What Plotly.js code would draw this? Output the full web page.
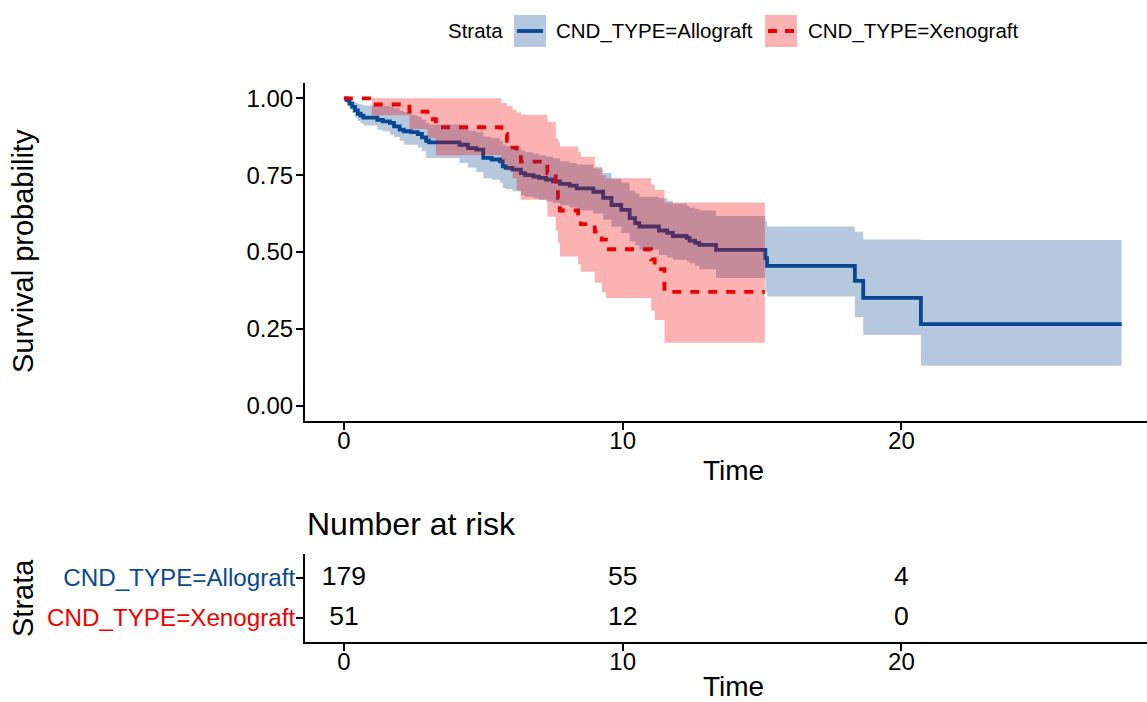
<!DOCTYPE html>
<html>
<head>
<meta charset="utf-8">
<script src="https://cdn.plot.ly/plotly-3.0.1.min.js"></script>
<style>
  html, body { margin: 0; padding: 0; background: #ffffff; }
  #chart { width: 1147px; height: 702px; }
</style>
</head>
<body>
<div id="chart"></div>
<script>
// Kaplan-Meier estimates by graft type, with 95% confidence band
const alloTime  = [0, 0.1, 0.2, 0.3, 0.4, 0.5, 0.6, 0.7, 1.2, 1.4, 1.65, 1.8, 2.0, 2.15, 2.4, 2.65, 2.8, 2.95, 3.05, 4.15, 4.45, 4.75, 5.0, 5.3, 5.6, 5.7, 5.8, 6.05, 6.35, 6.5, 6.8, 7.0, 7.25, 7.5, 7.75, 8.1, 8.35, 8.95, 9.3, 9.6, 9.95, 10.25, 10.45, 10.6, 11.3, 11.6, 11.8, 12.3, 12.4, 12.6, 12.75, 13.35, 15.12, 15.18, 18.33, 18.63, 20.7, 27.9];
const alloSurv  = [1.0, 0.994, 0.983, 0.972, 0.961, 0.95, 0.944, 0.937, 0.93, 0.925, 0.92, 0.909, 0.898, 0.893, 0.89, 0.884, 0.873, 0.862, 0.857, 0.849, 0.838, 0.833, 0.806, 0.801, 0.795, 0.779, 0.774, 0.768, 0.757, 0.75, 0.745, 0.741, 0.736, 0.73, 0.722, 0.716, 0.707, 0.696, 0.676, 0.653, 0.637, 0.61, 0.594, 0.583, 0.57, 0.562, 0.552, 0.546, 0.537, 0.53, 0.523, 0.507, 0.48, 0.455, 0.406, 0.351, 0.265, 0.265];
const alloUpper = [1.0, 1.0, 0.995, 0.99, 0.985, 0.982, 0.98, 0.977, 0.975, 0.975, 0.972, 0.968, 0.96, 0.955, 0.945, 0.94, 0.93, 0.92, 0.915, 0.905, 0.895, 0.89, 0.875, 0.87, 0.862, 0.85, 0.845, 0.84, 0.83, 0.825, 0.82, 0.815, 0.81, 0.805, 0.795, 0.79, 0.785, 0.772, 0.757, 0.738, 0.725, 0.70, 0.69, 0.68, 0.675, 0.667, 0.658, 0.65, 0.645, 0.64, 0.635, 0.617, 0.599, 0.583, 0.566, 0.541, 0.539, 0.539];
const alloLower = [1.0, 0.983, 0.965, 0.952, 0.938, 0.926, 0.918, 0.912, 0.898, 0.893, 0.882, 0.874, 0.862, 0.849, 0.849, 0.84, 0.828, 0.806, 0.806, 0.79, 0.775, 0.76, 0.74, 0.735, 0.725, 0.708, 0.705, 0.698, 0.685, 0.68, 0.675, 0.67, 0.665, 0.66, 0.652, 0.645, 0.635, 0.625, 0.605, 0.582, 0.562, 0.535, 0.523, 0.507, 0.49, 0.482, 0.475, 0.47, 0.463, 0.455, 0.444, 0.415, 0.37, 0.355, 0.288, 0.23, 0.13, 0.13];

const xenoTime  = [0, 1.0, 2.35, 3.0, 3.3, 5.65, 5.85, 6.05, 6.2, 6.35, 7.3, 7.6, 7.68, 7.75, 8.4, 8.5, 9.0, 9.25, 9.4, 11.02, 11.15, 11.5, 15.1];
const xenoSurv  = [1.0, 0.98, 0.957, 0.932, 0.906, 0.884, 0.862, 0.84, 0.818, 0.794, 0.756, 0.716, 0.676, 0.635, 0.612, 0.591, 0.566, 0.54, 0.509, 0.476, 0.444, 0.37, 0.37];
const xenoUpper = [1.0, 1.0, 1.0, 1.0, 1.0, 0.985, 0.975, 0.963, 0.955, 0.947, 0.924, 0.87, 0.86, 0.843, 0.825, 0.81, 0.777, 0.75, 0.74, 0.72, 0.702, 0.661, 0.661];
const xenoLower = [1.0, 0.945, 0.90, 0.87, 0.815, 0.79, 0.765, 0.74, 0.70, 0.67, 0.615, 0.57, 0.53, 0.485, 0.46, 0.436, 0.40, 0.37, 0.35, 0.31, 0.279, 0.205, 0.205];

// Number at risk table
const strataNames = ['CND_TYPE=Allograft', 'CND_TYPE=Xenograft'];
const riskTimes   = [0, 10, 20];
const alloRisk    = [179, 55, 4];
const xenoRisk    = [51, 12, 0];

const survTicks  = [0, 0.25, 0.5, 0.75, 1];
const survLabels = ['0.00', '0.25', '0.50', '0.75', '1.00'];
const timeTicks  = [0, 10, 20];

const BLUE = 'rgb(10,72,145)';
const RED  = 'rgb(240,0,0)';
const BLUE_FILL = 'rgba(10,72,145,0.3)';
const RED_FILL  = 'rgba(240,0,0,0.3)';
const FONT = 'Liberation Sans, Arial, sans-serif';
const LW = 3.8;

const W = 1147, H = 702;
const px = v => v / W;
const py = v => 1 - v / H;

const xDomain = [px(305), 1];
const xRange = [-1.395, 28.81];

const traces = [
  { x: alloTime, y: alloSurv, type: 'scatter', mode: 'lines',
    line: { shape: 'hv', color: BLUE, width: LW }, showlegend: false, hoverinfo: 'skip' },
  { x: xenoTime, y: xenoSurv, type: 'scatter', mode: 'lines',
    line: { shape: 'hv', color: RED, width: LW, dash: '9px,9px' }, showlegend: false, hoverinfo: 'skip' },
  { x: alloTime, y: alloLower, type: 'scatter', mode: 'lines',
    line: { shape: 'hv', width: 0 }, showlegend: false, hoverinfo: 'skip' },
  { x: alloTime, y: alloUpper, type: 'scatter', mode: 'lines', fill: 'tonexty', fillcolor: BLUE_FILL,
    line: { shape: 'hv', width: 0 }, showlegend: false, hoverinfo: 'skip' },
  { x: xenoTime, y: xenoLower, type: 'scatter', mode: 'lines',
    line: { shape: 'hv', width: 0 }, showlegend: false, hoverinfo: 'skip' },
  { x: xenoTime, y: xenoUpper, type: 'scatter', mode: 'lines', fill: 'tonexty', fillcolor: RED_FILL,
    line: { shape: 'hv', width: 0 }, showlegend: false, hoverinfo: 'skip' },
  { x: riskTimes, y: riskTimes.map(() => strataNames[0]), text: alloRisk.map(String),
    type: 'scatter', mode: 'text', textposition: 'middle center',
    textfont: { family: FONT, size: 26.5, color: '#000' },
    xaxis: 'x2', yaxis: 'y2', showlegend: false, hoverinfo: 'skip' },
  { x: riskTimes, y: riskTimes.map(() => strataNames[1]), text: xenoRisk.map(String),
    type: 'scatter', mode: 'text', textposition: 'middle center',
    textfont: { family: FONT, size: 26.5, color: '#000' },
    xaxis: 'x2', yaxis: 'y2', showlegend: false, hoverinfo: 'skip' }
];

const axisStyle = {
  showline: true, linecolor: '#000', linewidth: 2,
  ticks: 'outside', ticklen: 7, tickwidth: 2, tickcolor: '#000',
  showgrid: false, zeroline: false,
  tickfont: { family: FONT, size: 24, color: '#000' }
};

const annotations = [
  { text: 'Survival probability', x: px(23), y: py(251), textangle: -90,
    font: { family: FONT, size: 29, color: '#000' } },
  { text: 'Time', x: px(733), y: py(471), font: { family: FONT, size: 28, color: '#000' } },
  { text: 'Number at risk', x: px(305), y: py(524), xanchor: 'left',
    font: { family: FONT, size: 32, color: '#000' } },
  { text: 'Strata', x: px(23), y: py(598), textangle: -90,
    font: { family: FONT, size: 29, color: '#000' } },
  { text: 'Time', x: px(733), y: py(686), font: { family: FONT, size: 28, color: '#000' } },
  // legend
  { text: 'Strata', x: px(446), y: py(31), xanchor: 'left', font: { family: FONT, size: 20.5, color: '#000' } },
  { text: strataNames[0], x: px(554), y: py(31), xanchor: 'left', font: { family: FONT, size: 20.5, color: '#000' } },
  { text: strataNames[1], x: px(806), y: py(31), xanchor: 'left', font: { family: FONT, size: 20.5, color: '#000' } }
].map(a => Object.assign({ xref: 'paper', yref: 'paper', showarrow: false, xanchor: 'center', yanchor: 'middle' }, a));

const shapes = [
  { type: 'rect', x0: px(514), x1: px(546), y0: py(15), y1: py(47), fillcolor: BLUE_FILL, line: { width: 0 } },
  { type: 'line', x0: px(517), x1: px(543), y0: py(31), y1: py(31), line: { color: BLUE, width: LW } },
  { type: 'rect', x0: px(765), x1: px(797), y0: py(15), y1: py(47), fillcolor: RED_FILL, line: { width: 0 } },
  { type: 'line', x0: px(768), x1: px(794), y0: py(31), y1: py(31), line: { color: RED, width: LW, dash: '9px,8px' } }
].map(s => Object.assign({ xref: 'paper', yref: 'paper', layer: 'above' }, s));

const layout = {
  width: W, height: H,
  margin: { l: 0, r: 0, t: 0, b: 0 },
  paper_bgcolor: '#fff', plot_bgcolor: 'rgba(0,0,0,0)',
  showlegend: false,
  font: { family: FONT, color: '#000' },
  xaxis: Object.assign({}, axisStyle, {
    domain: xDomain, range: xRange, tickvals: timeTicks, anchor: 'y', ticklabelstandoff: -10
  }),
  yaxis: Object.assign({}, axisStyle, {
    domain: [py(421), py(83)], range: [-0.05, 1.05],
    tickvals: survTicks, ticktext: survLabels, anchor: 'x', ticklabelstandoff: -2
  }),
  xaxis2: Object.assign({}, axisStyle, {
    domain: xDomain, range: xRange, tickvals: timeTicks, anchor: 'y2', ticklabelstandoff: -10
  }),
  yaxis2: Object.assign({}, axisStyle, {
    domain: [py(642), py(554)], type: 'category',
    categoryorder: 'array', categoryarray: [strataNames[1], strataNames[0]],
    range: [-0.6, 1.6],
    tickmode: 'array', tickvals: [strataNames[1], strataNames[0]],
    ticktext: ['<span style="color:' + RED + '">' + strataNames[1] + '</span>',
               '<span style="color:' + BLUE + '">' + strataNames[0] + '</span>'],
    tickfont: { family: FONT, size: 24.2, color: '#000' },
    ticklabelstandoff: -4,
    anchor: 'x2'
  }),
  annotations: annotations,
  shapes: shapes
};

Plotly.newPlot('chart', traces, layout, { staticPlot: true, displayModeBar: false });
</script>
</body>
</html>
